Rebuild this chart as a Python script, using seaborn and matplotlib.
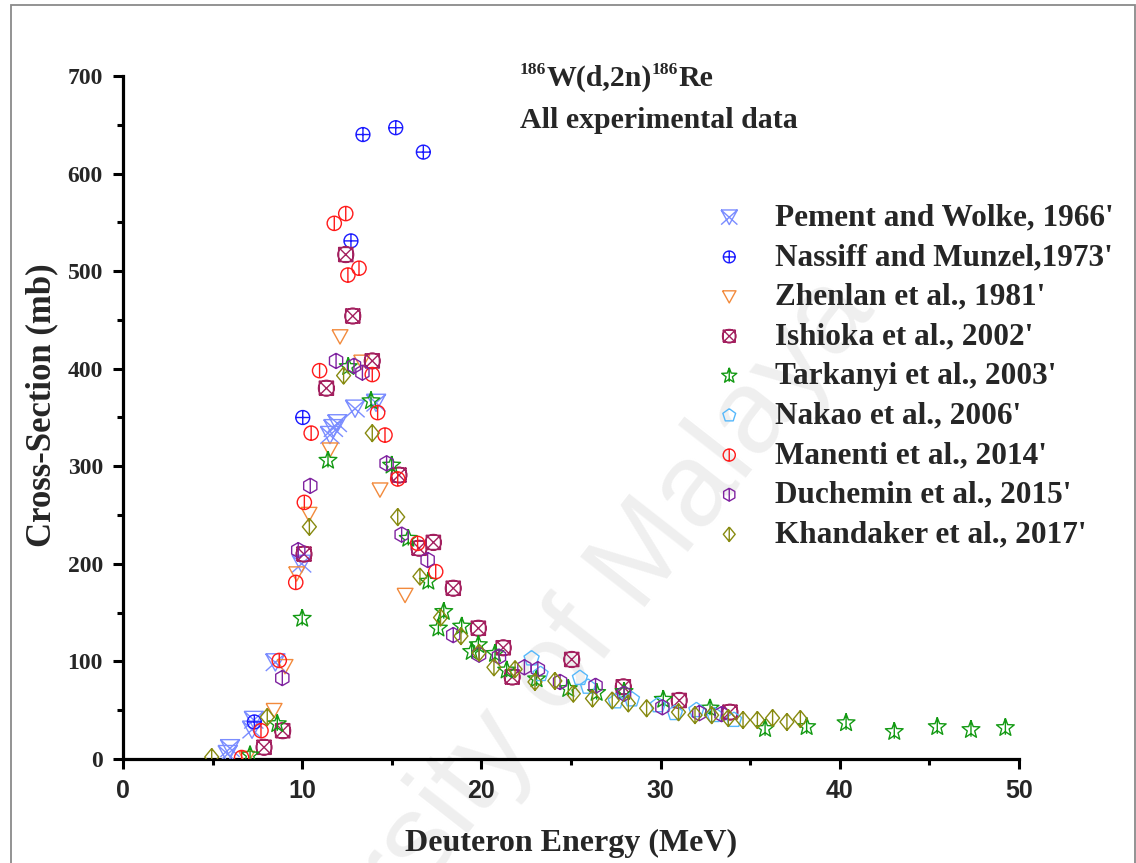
import matplotlib
matplotlib.use("Agg")
import matplotlib.pyplot as plt
from matplotlib.path import Path
from matplotlib.patches import Rectangle
from matplotlib.ticker import MultipleLocator
import numpy as np
import seaborn as sns

# ---- data: deuteron energy (MeV) and cross-section (mb) per experiment ----
pement_x = [5.84, 5.97, 7.2, 7.3, 8.5, 9.97, 11.55, 11.74, 11.96, 12.95, 14.12]
pement_y = [5, 11, 30, 40, 99, 200, 332, 339, 344, 359, 365]

nassiff_x = [7.33, 10.03, 12.72, 13.39, 15.22, 16.76]
nassiff_y = [38, 350, 531, 640, 647, 622]

zhenlan_x = [6.9, 8.43, 9.04, 9.69, 10.38, 11.55, 12.11, 13.32, 14.34, 15.74]
zhenlan_y = [1, 50, 95, 190, 251, 317, 433, 407, 276, 168]

ishioka_x = [7.87, 8.91, 10.1, 11.35, 12.43, 12.82, 13.91, 15.4, 16.52, 17.32,
             18.43, 19.83, 21.22, 21.72, 25.04, 27.92, 31.04, 33.87]
ishioka_y = [12, 29, 210, 380, 517, 454, 408, 291, 216, 222,
             175, 134, 114, 84, 102, 74, 60, 48]

tarkanyi_x = [7.09, 8.61, 10.0, 11.44, 12.57, 13.84, 14.99, 15.92, 17.04, 17.6,
              17.9, 18.9, 19.46, 19.83, 20.76, 21.41, 23.08, 24.85, 26.43, 27.96,
              30.15, 32.76, 35.83, 38.15, 40.35, 43.04, 45.44, 47.32, 49.24]
tarkanyi_y = [4, 36, 144, 306, 402, 367, 301, 226, 182, 134,
              151, 136, 110, 117, 108, 91, 82, 72, 68, 69,
              61, 52, 31, 33, 37, 28, 33, 30, 32]

nakao_x = [22.8, 23.3, 25.5, 25.95, 27.5, 28.4, 29.85, 30.8, 32.0, 33.0, 34.1]
nakao_y = [103, 87, 83, 74, 59, 61, 55, 47, 50, 45, 40]

manenti_x = [6.62, 7.7, 8.72, 9.64, 10.12, 10.5, 10.97, 11.79, 12.43, 12.55,
             13.17, 13.91, 14.21, 14.62, 15.33, 16.44, 17.45]
manenti_y = [1.5, 29, 101, 181, 263, 334, 398, 549, 559, 496,
             503, 394, 355, 332, 287, 221, 192]

duchemin_x = [8.89, 9.78, 10.45, 11.89, 12.89, 13.36, 14.71, 15.55, 17.0, 18.43,
              19.87, 20.98, 22.4, 23.15, 24.39, 26.37, 27.96, 30.1, 32.16, 33.4]
duchemin_y = [83, 214, 280, 408, 403, 396, 303, 230, 204, 127,
              107, 105, 94, 92, 79, 75, 67, 53, 47, 46]

khandaker_x = [4.95, 8.05, 10.4, 12.31, 13.91, 15.33, 16.57, 17.72, 18.86, 19.87,
               20.7, 21.88, 22.99, 24.1, 25.13, 26.2, 27.3, 28.2, 29.22, 31.0,
               31.92, 32.85, 33.78, 34.6, 35.4, 36.25, 37.05, 37.8]
khandaker_y = [2, 43, 238, 393, 334, 248, 187, 145, 126, 109,
               94, 92, 79, 80, 67, 62, 60, 57, 52, 48,
               45, 45, 42, 40, 40, 42, 38, 41]

labels = ["Pement and Wolke, 1966'", "Nassiff and Munzel,1973'", "Zhenlan et al., 1981'",
          "Ishioka et al., 2002'", "Tarkanyi et al., 2003'", "Nakao et al., 2006'",
          "Manenti et al., 2014'", "Duchemin et al., 2015'", "Khandaker et al., 2017'"]
colors = ["#7b8dff", "#1a1aff", "#f28a3c", "#a3205f", "#139a13",
          "#56b8fb", "#ff1a1a", "#7f22a0", "#878a10"]

x_ticks = [0, 10, 20, 30, 40, 50]
y_ticks = [0, 100, 200, 300, 400, 500, 600, 700]


# ---- hollow marker shapes with inner strokes ----
M, L = Path.MOVETO, Path.LINETO


def seg(p, q):
    return Path([p, q], [M, L])


def poly(pts):
    pts = list(pts) + [pts[0]]
    return Path(pts, [M] + [L] * (len(pts) - 1))


def ngon(n, r=1.0, start=90):
    a = np.deg2rad(start + 360.0 * np.arange(n) / n)
    return [(r * np.cos(t), r * np.sin(t)) for t in a]


circle = Path.unit_circle()
star_pts = []
for k in range(10):
    rr = 1.0 if k % 2 == 0 else 0.42
    t = np.deg2rad(90 + 36 * k)
    star_pts.append((rr * np.cos(t), rr * np.sin(t)))

mk_pement = Path.make_compound_path(poly([(-1, 0.9), (1, 0.9), (0, -0.9)]),
                                    seg((-1, 0.9), (1, -0.9)), seg((1, 0.9), (-1, -0.9)))
mk_nassiff = Path.make_compound_path(circle, seg((-1, 0), (1, 0)), seg((0, -1), (0, 1)))
mk_zhenlan = poly([(-1, 0.85), (1, 0.85), (0, -0.95)])
mk_ishioka = Path.make_compound_path(poly([(-0.85, -0.85), (0.85, -0.85), (0.85, 0.85), (-0.85, 0.85)]),
                                     seg((-0.85, -0.85), (0.85, 0.85)), seg((-0.85, 0.85), (0.85, -0.85)),
                                     Path(circle.vertices * 0.95, circle.codes))
mk_tarkanyi = Path.make_compound_path(poly(star_pts), seg((0, -0.75), (0, 1)))
mk_nakao = poly(ngon(5))
mk_manenti = Path.make_compound_path(circle, seg((0, -1), (0, 1)))
mk_duchemin = Path.make_compound_path(poly(ngon(6)), seg((0, -1), (0, 1)))
mk_khandaker = Path.make_compound_path(poly([(0, 1), (0.82, 0), (0, -1), (-0.82, 0)]),
                                       seg((0, -1), (0, 1)))

series = [
    (pement_x, pement_y, mk_pement, 190),
    (nassiff_x, nassiff_y, mk_nassiff, 100),
    (zhenlan_x, zhenlan_y, mk_zhenlan, 130),
    (ishioka_x, ishioka_y, mk_ishioka, 130),
    (tarkanyi_x, tarkanyi_y, mk_tarkanyi, 180),
    (nakao_x, nakao_y, mk_nakao, 130),
    (manenti_x, manenti_y, mk_manenti, 105),
    (duchemin_x, duchemin_y, mk_duchemin, 120),
    (khandaker_x, khandaker_y, mk_khandaker, 150),
]

# ---- figure ----
sns.set_style("ticks")
plt.rcParams["font.family"] = ["Liberation Serif", "DejaVu Serif"]

W, H = 1136, 863
fig = plt.figure(figsize=(W / 100, H / 100), dpi=100)
fig.patch.set_facecolor("white")
ax = fig.add_axes([123 / W, 1 - 759 / H, (1019 - 123) / W, (759 - 76) / H])
ax.patch.set_alpha(0)

# faint diagonal watermark behind the data
fig.text(521 / W, 1 - 716 / H, "University of Malaya", rotation=52, fontsize=86,
         family="Liberation Sans", color="#efefef", ha="center", va="center",
         rotation_mode="anchor", zorder=-1)

for (xs, ys, mk, sz), lab, col in zip(series, labels, colors):
    sns.scatterplot(x=xs, y=ys, ax=ax, marker=mk, s=sz, color=col, edgecolor=col,
                    facecolor="none", linewidth=1.0, label=lab, zorder=3)

ax.set_xlim(0, 50)
ax.set_ylim(0, 700)
ax.set_xticks(x_ticks)
ax.set_xticklabels([str(t) for t in x_ticks], family="Liberation Sans",
                   fontweight="bold", fontsize=18)
ax.set_yticks(y_ticks)
ax.set_yticklabels([str(t) for t in y_ticks], fontweight="bold", fontsize=17)
ax.xaxis.set_minor_locator(MultipleLocator(5))
ax.yaxis.set_minor_locator(MultipleLocator(50))
ax.tick_params(which="major", direction="out", length=7.5, width=2.2, pad=7, color="black")
ax.tick_params(which="minor", direction="out", length=4, width=2.2, color="black")
for side in ["top", "right"]:
    ax.spines[side].set_visible(False)
for side in ["left", "bottom"]:
    ax.spines[side].set_linewidth(2.3)
    ax.spines[side].set_color("black")

ax.set_xlabel("Deuteron Energy (MeV)", fontsize=23, fontweight="bold")
ax.set_ylabel("Cross-Section (mb)", fontsize=25, fontweight="bold")
ax.xaxis.set_label_coords(0.5, -(843 - 759) / 683)
ax.xaxis.label.set_va("center")
ax.yaxis.set_label_coords((42 - 123) / 896, (759 - 405) / 683)
ax.yaxis.label.set_va("center")

# reaction title with mass-number superscripts, laid out piece by piece
renderer = fig.canvas.get_renderer()
title_pieces = [("186", True), ("W(d,2n)", False), ("186", True), ("Re", False)]
xpos = 520 / W
for txt, sup in title_pieces:
    t = fig.text(xpos, 1 - (74 if sup else 86) / H, txt,
                 fontsize=12.5 if sup else 21.5, fontweight="bold",
                 ha="left", va="baseline")
    xpos = t.get_window_extent(renderer).x1 / W
fig.text(520 / W, 1 - 121 / H, "All experimental data", fontsize=21.5,
         fontweight="bold", ha="left", va="center")

ax.legend(loc="upper left", bbox_to_anchor=(698 / W, 1 - 203.5 / H),
          bbox_transform=fig.transFigure, frameon=False, borderpad=0,
          borderaxespad=0, handlelength=2.0, handletextpad=0.45,
          labelspacing=0.34, scatterpoints=1, markerscale=0.85,
          prop={"family": "Liberation Serif", "weight": "bold", "size": 22.5})

# thin frame around the whole figure
fig.add_artist(Rectangle((10.5 / W, -0.05), (1134.5 - 10.5) / W, 1.05 - 5 / H,
                         transform=fig.transFigure, fill=False,
                         edgecolor="#8a8a8a", linewidth=1.3, zorder=10))

fig.savefig("out.png", dpi=100, facecolor="white")
